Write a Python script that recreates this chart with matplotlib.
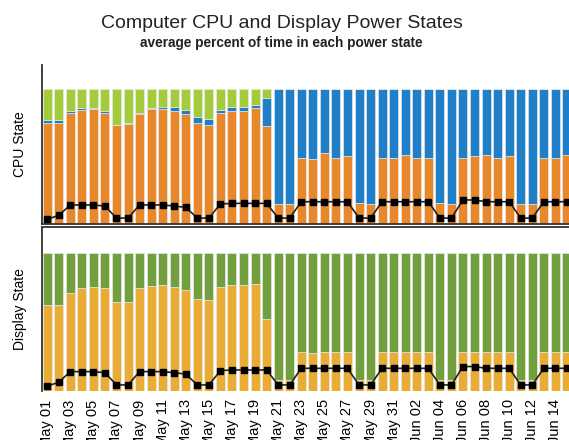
import numpy as np
import matplotlib
matplotlib.use("Agg")
import matplotlib.pyplot as plt

plt.rcParams['font.family'] = ['Liberation Sans', 'DejaVu Sans']

# one bar per day, May 01 .. Jun 15
days = ["May %02d" % d for d in range(1, 32)] + ["Jun %02d" % d for d in range(1, 16)]

# CPU state, percent of time
cpu_orange = [74.6, 74.6, 82.5, 84.7, 85.0, 82.5, 73.3, 73.8, 81.2, 84.9,
              84.9, 83.5, 81.2, 74.6, 73.3, 82.5, 83.5, 83.5, 85.7, 72.6,
              15.0, 15.0, 49.1, 48.1, 52.3, 49.1, 50.1, 15.8, 15.0, 49.1,
              49.1, 51.1, 49.1, 49.1, 15.8, 15.0, 49.1, 50.1, 51.1, 49.1,
              50.1, 15.0, 15.0, 49.1, 49.1, 51.1]
cpu_blue_top = [76.8, 76.8, 83.5, 85.7, 85.9, 83.7, 73.6, 74.8, 82.5, 85.9,
                86.7, 86.7, 84.4, 79.0, 77.8, 84.4, 86.9, 86.9, 88.1, 93.6] + [100.0] * 26

# Display state, percent of time
disp_yellow = [62.7, 62.7, 71.2, 74.9, 75.9, 74.9, 64.6, 64.6, 74.9, 76.6,
               76.8, 75.9, 73.5, 67.1, 65.9, 75.9, 76.8, 76.8, 77.8, 52.4,
               7.8, 7.8, 28.5, 27.3, 28.5, 28.5, 28.5, 7.8, 7.8, 28.5,
               28.5, 28.5, 28.5, 28.5, 7.8, 7.8, 28.5, 28.5, 28.5, 28.5,
               28.5, 7.8, 7.8, 28.5, 28.5, 28.5]

# overlay line
line_vals = [3.5, 6.4, 14.1, 14.1, 14.1, 13.3, 4.4, 4.4, 14.1, 14.1,
             14.1, 13.3, 12.3, 4.4, 4.4, 14.8, 15.3, 15.3, 15.3, 15.3,
             4.4, 4.4, 16.5, 16.5, 16.5, 16.5, 16.5, 4.4, 4.4, 16.5,
             16.5, 16.5, 16.5, 16.5, 4.4, 4.4, 17.8, 17.8, 16.5, 16.5,
             16.5, 4.4, 4.4, 16.5, 16.5, 16.5]

x = np.arange(len(days))
cpu_orange = np.array(cpu_orange)
cpu_blue = np.array(cpu_blue_top) - cpu_orange
cpu_green = 100 - np.array(cpu_blue_top)
disp_yellow = np.array(disp_yellow)
disp_green = 100 - disp_yellow

fig = plt.figure(figsize=(5.69, 4.40), dpi=100)
W, H = 569.0, 440.0

def ax_at(left, top, right, bottom):
    return fig.add_axes([left / W, 1 - bottom / H, (right - left) / W, (bottom - top) / H])

ax1 = ax_at(42, 65, 575, 224)
ax2 = ax_at(42, 227, 575, 391)

bw = 0.78
ec = '#e6e6e6'
ax1.bar(x, cpu_orange, bw, color='#e8882b', edgecolor=ec, linewidth=0.5)
ax1.bar(x, cpu_blue, bw, bottom=cpu_orange, color='#1f7fc9', edgecolor=ec, linewidth=0.5)
ax1.bar(x, cpu_green, bw, bottom=cpu_orange + cpu_blue, color='#a4cb3a', edgecolor=ec, linewidth=0.5)

ax2.bar(x, disp_yellow, bw, color='#e9ad35', edgecolor=ec, linewidth=0.5)
ax2.bar(x, disp_green, bw, bottom=disp_yellow, color='#73a03e', edgecolor=ec, linewidth=0.5)

for ax in (ax1, ax2):
    ax.plot(x, line_vals, color='#222222', lw=1.2, marker='s', ms=5,
            mfc='black', mec='black', zorder=5)
    ax.set_xlim(-0.45, 45.7)
    ax.set_yticks([])
    ax.spines['right'].set_visible(False)
    for s in ax.spines.values():
        s.set_color('#333333')
        s.set_linewidth(1.3)

ax1.set_ylim(0, 117.8)
ax2.set_ylim(0, 119.2)
ax1.spines['top'].set_visible(False)
ax1.set_xticks([])
ax2.spines['bottom'].set_visible(False)

ax2.set_xticks(x[::2])
ax2.set_xticklabels(days[::2], rotation=90, fontsize=10.5)
ax2.tick_params(axis='x', length=0, pad=6)

ax1.set_ylabel('CPU State', fontsize=10, labelpad=11)
ax2.set_ylabel('Display State', fontsize=10, labelpad=11)

fig.text(0.496, 1 - 28 / H, 'Computer CPU and Display Power States', ha='center', va='baseline',
         fontsize=14, color='#222222')
fig.text(0.494, 1 - 47 / H, 'average percent of time in each power state', ha='center', va='baseline',
         fontsize=9.8, fontweight='bold', color='#222222')

fig.savefig('out.png', dpi=100)
